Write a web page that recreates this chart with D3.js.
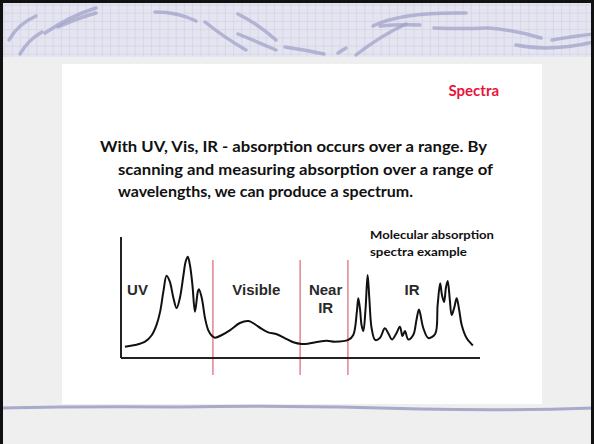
<!DOCTYPE html>
<html>
<head>
<meta charset="utf-8">
<script src="https://cdn.jsdelivr.net/npm/d3@7"></script>
<style>
  body { margin: 0; background: #fff; }
  svg { display: block; }
</style>
</head>
<body>
<section></section>
<script>
// spectrum: wavelength (0-100, arbitrary) vs absorbance (0-100)
const wavelength = [1.1, 3.9, 6.7, 8.6, 9.9, 10.9, 11.8, 12.7, 13.6, 14.6, 15.5, 16.4, 17.4, 18.0, 18.6, 19.2, 19.9, 20.6, 21.4, 21.7, 22.5, 23.4, 24.3, 25.3, 26.2, 28.1, 30.4, 33.1, 35.5, 37.3, 39.2, 41.0, 43.4, 45.7, 48.0, 50.3, 52.6, 55.0, 57.3, 59.6, 63.3, 64.7, 65.7, 66.1, 66.6, 67.0, 67.5, 68.1, 68.7, 69.2, 69.8, 70.8, 72.1, 73.5, 74.4, 75.5, 76.6, 77.7, 78.4, 79.1, 80.0, 81.4, 82.3, 83.0, 84.2, 85.6, 87.5, 88.2, 88.9, 89.4, 90.0, 90.5, 91.0, 91.6, 92.1, 92.8, 93.5, 94.2, 94.9, 96.3, 97.7, 98.0];
const absorbance = [9.3, 10.7, 13.5, 19.0, 27.3, 38.3, 54.8, 68.0, 63.1, 49.6, 41.3, 49.6, 68.6, 79.6, 83.7, 76.9, 60.3, 38.3, 54.8, 56.8, 49.6, 33.1, 23.1, 18.4, 16.8, 19.0, 23.1, 28.9, 30.6, 27.9, 24.0, 21.2, 19.6, 16.3, 13.0, 11.6, 12.1, 13.5, 14.3, 13.5, 14.9, 19.0, 38.3, 49.3, 39.7, 27.3, 22.3, 39.7, 68.6, 47.9, 24.8, 14.9, 16.5, 24.5, 20.7, 15.3, 19.8, 25.9, 18.2, 22.3, 15.3, 19.0, 31.4, 40.1, 24.8, 16.5, 19.8, 43.8, 61.7, 52.1, 46.3, 57.9, 63.6, 47.9, 35.5, 41.3, 49.3, 39.7, 27.3, 16.3, 11.3, 10.3];

// region boundaries (red lines) and region labels
const boundaries = [25.6, 49.9, 63.2];
const regionLabels = [
  { lines: ['UV'], x: 1.7 },
  { lines: ['Visible'], x: 31 },
  { lines: ['Near', 'IR'], x: 57 },
  { lines: ['IR'], x: 79 }
];

const title = 'Spectra';
const bodyLines = [
  'With UV, Vis, IR - absorption occurs over a range.  By',
  'scanning and measuring absorption over a range of',
  'wavelengths, we can produce a spectrum.'
];
const noteLines = ['Molecular absorption', 'spectra example'];

const W = 594, H = 444;
const svg = d3.select('section')
  .append('svg')
  .attr('width', W)
  .attr('height', H);

// slide background
svg.append('rect').attr('width', W).attr('height', H).attr('fill', '#efeff0');

// header band with grid
const head = svg.append('g');
head.append('rect').attr('x', 0).attr('y', 0).attr('width', W).attr('height', 57).attr('fill', '#e5e5f1');
d3.range(4, W, 8.2).forEach(x => head.append('line')
  .attr('x1', x).attr('x2', x).attr('y1', 0).attr('y2', 57)
  .attr('stroke', '#d3d3e6').attr('stroke-width', 0.8));
d3.range(5, 57, 8.2).forEach(y => head.append('line')
  .attr('x1', 0).attr('x2', W).attr('y1', y).attr('y2', y)
  .attr('stroke', '#d3d3e6').attr('stroke-width', 0.8));

const swooshes = [
  'M9,40 Q18,24 36,16', 'M20,54 Q28,40 42,32', 'M45,33 Q70,16 96,8', 'M58,27 Q78,18 96,13',
  'M155,12 Q178,12 196,21', 'M205,22 Q225,38 246,50', 'M238,14 Q258,24 276,40', 'M238,34 Q258,42 276,50',
  'M285,47 Q305,50 324,54', 'M338,53 L346,48', 'M356,55 Q380,36 406,24', 'M373,26 Q400,12 466,13',
  'M380,26 Q400,24 420,25', 'M434,28 Q460,29 486,28', 'M488,28 Q515,30 541,38', 'M516,45 Q550,52 594,42', 'M552,40 Q575,36 594,34'
];
head.selectAll('path.sw')
  .data(swooshes)
  .enter()
  .append('path')
  .attr('class', 'sw')
  .attr('d', d => d)
  .attr('fill', 'none')
  .attr('stroke', '#a2a2c8')
  .attr('stroke-width', 3.5)
  .attr('stroke-linecap', 'round')
  .attr('opacity', 0.75);

// white content panel
svg.append('rect').attr('x', 62).attr('y', 64).attr('width', 480).attr('height', 340).attr('fill', '#fff');

// bottom rule
svg.append('path')
  .attr('d', 'M0,408 Q90,406 180,407 Q300,405 420,409 Q510,411 594,408')
  .attr('fill', 'none').attr('stroke', '#a9a9cb').attr('stroke-width', 3);

// frame
svg.append('rect').attr('x', 1.5).attr('y', 1.5).attr('width', W - 3).attr('height', H + 4)
  .attr('fill', 'none').attr('stroke', '#111').attr('stroke-width', 3);

// title
svg.append('text')
  .attr('x', 499).attr('y', 96)
  .attr('text-anchor', 'end')
  .attr('font-family', 'Lato, sans-serif')
  .attr('font-weight', 'bold')
  .attr('font-size', 15)
  .attr('fill', '#e8143c')
  .text(title);

// body text
const bodyX = [100, 118, 118];
const bodyY = [152, 175, 197];
const bodyLen = [387, 375, 295];
bodyLines.forEach((t, i) => svg.append('text')
  .attr('x', bodyX[i]).attr('y', bodyY[i])
  .attr('font-family', 'Lato, sans-serif')
  .attr('font-weight', 'bold')
  .attr('font-size', 14.5)
  .attr('fill', '#111')
  .attr('textLength', bodyLen[i])
  .attr('lengthAdjust', 'spacingAndGlyphs')
  .text(t));

// chart
const xscale = d3.scaleLinear().domain([0, 100]).range([121, 480]);
const yscale = d3.scaleLinear().domain([0, 100]).range([358, 237]);

const chart = svg.append('g');

chart.selectAll('.boundary')
  .data(boundaries)
  .enter()
  .append('line')
  .attr('class', 'boundary')
  .attr('x1', d => xscale(d)).attr('x2', d => xscale(d))
  .attr('y1', yscale(81)).attr('y2', yscale(-14))
  .attr('stroke', '#e48a98')
  .attr('stroke-width', 1.6);

chart.append('line')
  .attr('x1', xscale(0)).attr('x2', xscale(100))
  .attr('y1', yscale(0)).attr('y2', yscale(0))
  .attr('stroke', '#222').attr('stroke-width', 2);
chart.append('line')
  .attr('x1', xscale(0)).attr('x2', xscale(0))
  .attr('y1', yscale(0)).attr('y2', yscale(100))
  .attr('stroke', '#222').attr('stroke-width', 2);

const points = wavelength.map((w, i) => [w, absorbance[i]]);
const line = d3.line()
  .x(d => xscale(d[0]))
  .y(d => yscale(d[1]))
  .curve(d3.curveCatmullRom.alpha(0.5));
chart.append('path')
  .datum(points)
  .attr('d', line)
  .attr('fill', 'none')
  .attr('stroke', '#111')
  .attr('stroke-width', 2)
  .attr('stroke-linejoin', 'round');

regionLabels.forEach(r => {
  r.lines.forEach((t, j) => chart.append('text')
    .attr('x', xscale(r.x))
    .attr('y', yscale(52) + j * 18)
    .attr('text-anchor', r.lines.length > 1 ? 'middle' : 'start')
    .attr('font-family', 'Liberation Sans, Arial, sans-serif')
    .attr('font-weight', 'bold')
    .attr('font-size', 15)
    .attr('fill', '#2a2a2a')
    .text(t));
});

const noteLen = [124, 97];
noteLines.forEach((t, i) => chart.append('text')
  .attr('x', 370).attr('y', 239 + i * 17)
  .attr('font-family', 'Lato, sans-serif')
  .attr('font-weight', 'bold')
  .attr('font-size', 12)
  .attr('fill', '#111')
  .attr('textLength', noteLen[i])
  .attr('lengthAdjust', 'spacingAndGlyphs')
  .text(t));
</script>
</body>
</html>
